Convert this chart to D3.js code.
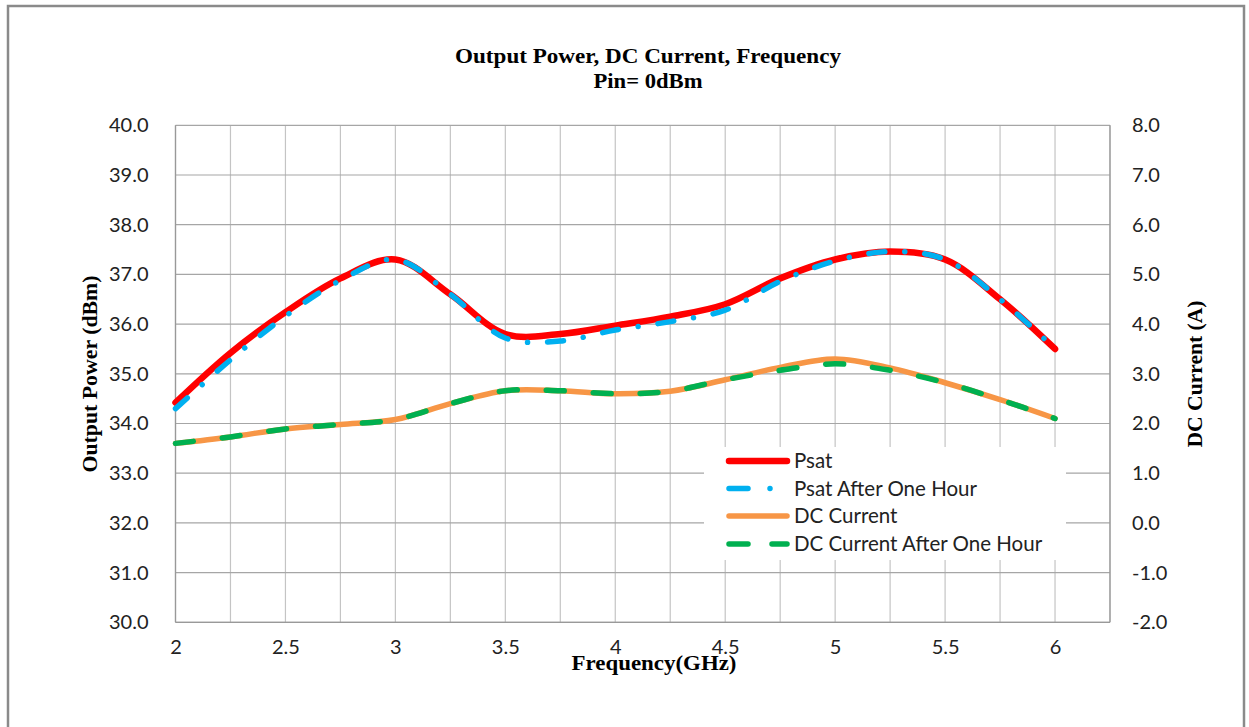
<!DOCTYPE html>
<html>
<head>
<meta charset="utf-8">
<script src="https://cdn.jsdelivr.net/npm/d3@7"></script>
<style>
  html, body { margin: 0; padding: 0; background: #fff; }
  svg { display: block; }
</style>
</head>
<body>
<svg id="chart" width="1249" height="727"></svg>
<script>
// ---- data ----
const freq = [2, 2.25, 2.5, 2.75, 3, 3.25, 3.5, 3.75, 4, 4.25, 4.5, 4.75, 5, 5.25, 5.5, 5.75, 6];
const psat = [34.42, 35.42, 36.24, 36.92, 37.3, 36.6, 35.8, 35.8, 35.97, 36.15, 36.4, 36.92, 37.3, 37.46, 37.3, 36.5, 35.5];
const psatHour = [34.3, 35.28, 36.16, 36.88, 37.3, 36.6, 35.72, 35.66, 35.88, 36.05, 36.28, 36.86, 37.27, 37.46, 37.3, 36.5, 35.5];
const dcCurrent = [1.6, 1.73, 1.89, 1.98, 2.08, 2.4, 2.66, 2.66, 2.6, 2.65, 2.88, 3.13, 3.3, 3.12, 2.82, 2.48, 2.1];
const dcCurrentHour = [1.6, 1.73, 1.89, 1.98, 2.08, 2.4, 2.66, 2.66, 2.6, 2.65, 2.88, 3.07, 3.2, 3.07, 2.82, 2.48, 2.1];
const xTicks = [2, 2.5, 3, 3.5, 4, 4.5, 5, 5.5, 6];
const xGrid = [2, 2.25, 2.5, 2.75, 3, 3.25, 3.5, 3.75, 4, 4.25, 4.5, 4.75, 5, 5.25, 5.5, 5.75, 6, 6.25];
const yTicks = [30, 31, 32, 33, 34, 35, 36, 37, 38, 39, 40];
const y2Ticks = [-2, -1, 0, 1, 2, 3, 4, 5, 6, 7, 8];
const titleLines = ["Output Power, DC Current,  Frequency", "Pin= 0dBm"];
const seriesNames = ["Psat", "Psat After One Hour", "DC Current", "DC Current After One Hour"];

// ---- layout ----
const svg = d3.select("#chart");
const L = 175.5, R = 1110, T = 125.3, B = 622.3;
const x = d3.scaleLinear().domain([2, 6.25]).range([L, R]);
const y = d3.scaleLinear().domain([30, 40]).range([B, T]);
const y2 = d3.scaleLinear().domain([-2, 8]).range([B, T]);
const fmt1 = d => d3.format(".1f")(d).replace("\u2212", "-");

// outer border
svg.append("rect").attr("x", 8).attr("y", 6).attr("width", 1236).attr("height", 760)
  .attr("fill", "#fff").attr("stroke", "#8a8a8a").attr("stroke-width", 2.5);

// gridlines
const g = svg.append("g");
g.selectAll("line.vg").data(xGrid).join("line")
  .attr("x1", d => x(d)).attr("x2", d => x(d)).attr("y1", T).attr("y2", B)
  .attr("stroke", "#c4c4c4").attr("stroke-width", 1.2);
g.selectAll("line.hg").data(yTicks).join("line")
  .attr("x1", L).attr("x2", R).attr("y1", d => y(d)).attr("y2", d => y(d))
  .attr("stroke", "#a6a6a6").attr("stroke-width", 1.2);
// frame
g.append("line").attr("x1", L).attr("x2", L).attr("y1", T).attr("y2", B).attr("stroke", "#999").attr("stroke-width", 1.3);
g.append("line").attr("x1", R).attr("x2", R).attr("y1", T).attr("y2", B).attr("stroke", "#999").attr("stroke-width", 1.3);
g.append("line").attr("x1", L).attr("x2", R).attr("y1", B).attr("y2", B).attr("stroke", "#999").attr("stroke-width", 1.3);

// axes (text only)
const tickFont = "Lato, 'Open Sans', sans-serif";
const axL = svg.append("g").attr("transform", `translate(${L},0)`)
  .call(d3.axisLeft(y).tickValues(yTicks).tickFormat(fmt1).tickSize(0).tickPadding(27));
const axR = svg.append("g").attr("transform", `translate(${R},0)`)
  .call(d3.axisRight(y2).tickValues(y2Ticks).tickFormat(fmt1).tickSize(0).tickPadding(22));
const axB = svg.append("g").attr("transform", `translate(0,${B})`)
  .call(d3.axisBottom(x).tickValues(xTicks).tickFormat(d3.format("")).tickSize(0).tickPadding(18));
[axL, axR, axB].forEach(a => {
  a.select(".domain").remove();
  a.selectAll("text").attr("font-family", tickFont).attr("font-size", 20).attr("fill", "#222");
});

// series
const line = (ys, sc) => d3.line().x((d, i) => x(freq[i])).y(d => sc(d)).curve(d3.curveCatmullRom.alpha(0.5))(ys);
const plot = svg.append("g");
plot.append("path").attr("d", line(dcCurrent, y2)).attr("fill", "none")
  .attr("stroke", "#F79646").attr("stroke-width", 5.5).attr("stroke-linecap", "round");
plot.append("path").attr("d", line(dcCurrentHour, y2)).attr("fill", "none")
  .attr("stroke", "#00B050").attr("stroke-width", 5.5).attr("stroke-linecap", "round")
  .attr("stroke-dasharray", "18,29");
plot.append("path").attr("d", line(psat, y)).attr("fill", "none")
  .attr("stroke", "#FF0000").attr("stroke-width", 6.5).attr("stroke-linecap", "round");
plot.append("path").attr("d", line(psatHour, y)).attr("fill", "none")
  .attr("stroke", "#00B0F0").attr("stroke-width", 5.5).attr("stroke-linecap", "round")
  .attr("stroke-dasharray", "16,20,0.01,20");

// legend
const leg = svg.append("g");
leg.append("rect").attr("x", 704).attr("y", 447).attr("width", 362).attr("height", 113).attr("fill", "#fff");
const legStyles = [
  {c: "#FF0000", w: 6.5, dash: null},
  {c: "#00B0F0", w: 5.5, dash: "19,22,0.01,30"},
  {c: "#F79646", w: 5.5, dash: null},
  {c: "#00B050", w: 5.5, dash: "19,24"}
];
const legY = [461, 488.5, 516, 544];
seriesNames.forEach((n, i) => {
  const s = legStyles[i];
  const ln = leg.append("line").attr("x1", 729).attr("x2", 787).attr("y1", legY[i]).attr("y2", legY[i])
    .attr("stroke", s.c).attr("stroke-width", s.w).attr("stroke-linecap", "round");
  if (s.dash) ln.attr("stroke-dasharray", s.dash);
  leg.append("text").attr("x", 794).attr("y", legY[i]).attr("dy", "0.36em")
    .attr("font-family", tickFont).attr("font-size", 20.5).attr("fill", "#222").text(n);
});

// titles
const serif = "'Liberation Serif', 'Times New Roman', serif";
svg.append("text").attr("x", 648).attr("y", 63).attr("text-anchor", "middle")
  .attr("font-family", serif).attr("font-weight", "bold").attr("font-size", 20)
  .attr("textLength", 386).attr("lengthAdjust", "spacingAndGlyphs").text(titleLines[0]);
svg.append("text").attr("x", 648).attr("y", 88).attr("text-anchor", "middle")
  .attr("font-family", serif).attr("font-weight", "bold").attr("font-size", 20)
  .attr("textLength", 109).attr("lengthAdjust", "spacingAndGlyphs").text(titleLines[1]);
svg.append("text").attr("transform", "translate(97,374) rotate(-90)").attr("text-anchor", "middle")
  .attr("font-family", serif).attr("font-weight", "bold").attr("font-size", 20)
  .attr("textLength", 197).attr("lengthAdjust", "spacingAndGlyphs").text("Output  Power (dBm)");
svg.append("text").attr("transform", "translate(1202,374) rotate(-90)").attr("text-anchor", "middle")
  .attr("font-family", serif).attr("font-weight", "bold").attr("font-size", 20)
  .attr("textLength", 147).attr("lengthAdjust", "spacingAndGlyphs").text("DC Current  (A)");
svg.append("text").attr("x", 654).attr("y", 670).attr("text-anchor", "middle")
  .attr("font-family", serif).attr("font-weight", "bold").attr("font-size", 20)
  .attr("textLength", 165).attr("lengthAdjust", "spacingAndGlyphs").text("Frequency(GHz)");
</script>
</body>
</html>
